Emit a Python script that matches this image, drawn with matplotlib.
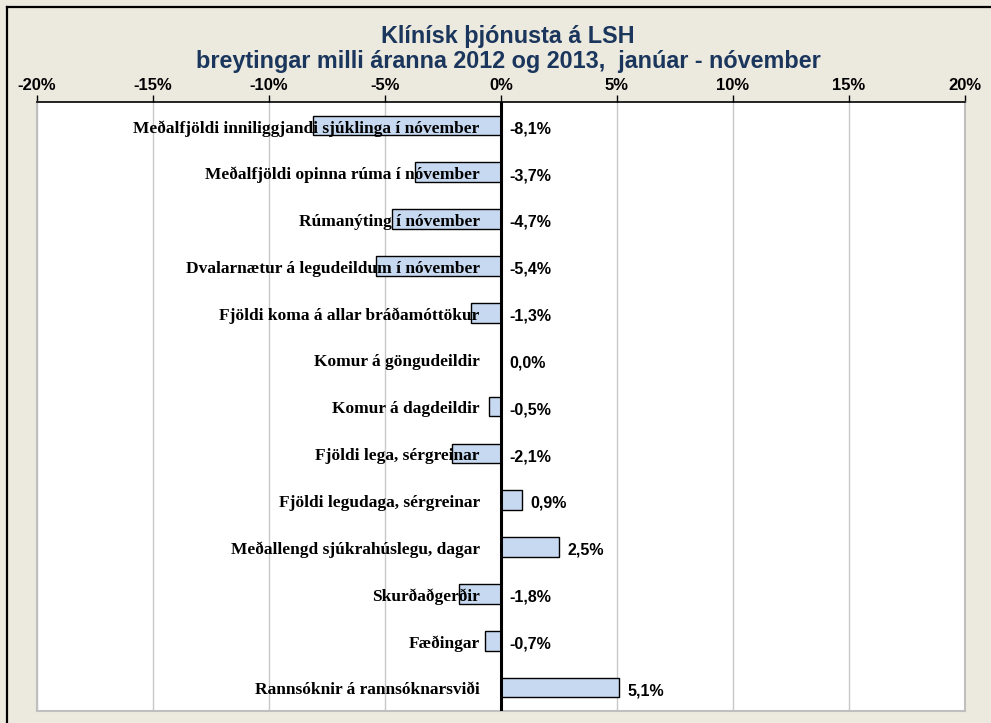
import matplotlib
matplotlib.use("Agg")
import matplotlib.pyplot as plt
from matplotlib.lines import Line2D
from matplotlib.ticker import FuncFormatter, MultipleLocator

# Gögn
categories = [
    "Meðalfjöldi inniliggjandi sjúklinga í nóvember",
    "Meðalfjöldi opinna rúma í nóvember",
    "Rúmanýting í nóvember",
    "Dvalarnætur á legudeildum í nóvember",
    "Fjöldi koma á allar bráðamóttökur",
    "Komur á göngudeildir",
    "Komur á dagdeildir",
    "Fjöldi lega, sérgreinar",
    "Fjöldi legudaga, sérgreinar",
    "Meðallengd sjúkrahúslegu, dagar",
    "Skurðaðgerðir",
    "Fæðingar",
    "Rannsóknir á rannsóknarsviði",
]
changes = [-8.1, -3.7, -4.7, -5.4, -1.3, 0.0, -0.5, -2.1, 0.9, 2.5, -1.8, -0.7, 5.1]

title_line1 = "Klínísk þjónusta á LSH"
title_line2 = "breytingar milli áranna 2012 og 2013,  janúar - nóvember"

bg = "#ECE9DF"
bar_color = "#C6D9F1"
title_color = "#1B365C"

fig = plt.figure(figsize=(9.91, 7.23), dpi=100, facecolor=bg)
# ytri rammi (aðeins efri og vinstri brún sjást)
fig.lines.append(Line2D([7 / 991, 1.0], [1 - 7 / 723, 1 - 7 / 723],
                        transform=fig.transFigure, color="black", linewidth=1.6))
fig.lines.append(Line2D([7 / 991, 7 / 991], [0.0, 1 - 7 / 723],
                        transform=fig.transFigure, color="black", linewidth=1.6))

ax = fig.add_axes([37 / 991, 1 - 711 / 723, (965 - 37) / 991, (711 - 102) / 723])
ax.set_facecolor("white")

y = list(range(len(categories)))
ax.barh(y, changes, height=0.42, color=bar_color, edgecolor="black",
        linewidth=1.0, zorder=3)

ax.set_xlim(-20, 20)
ax.set_ylim(len(categories) - 0.5, -0.5)
ax.xaxis.set_major_locator(MultipleLocator(5))
ax.xaxis.set_major_formatter(FuncFormatter(lambda v, p: f"{v:.0f}%"))
ax.xaxis.tick_top()
ax.tick_params(axis="x", direction="out", length=5, width=1, pad=1.5,
               labelsize=12, colors="black")
for lab in ax.get_xticklabels():
    lab.set_fontweight("bold")
    lab.set_fontfamily("Liberation Sans")
ax.set_yticks([])

ax.grid(axis="x", color="#C8C8C8", linewidth=1.0, zorder=0)
ax.axvline(0, color="black", linewidth=2.2, zorder=4)

for side in ["left", "right", "bottom"]:
    ax.spines[side].set_color("#BFBFBF")
    ax.spines[side].set_linewidth(1.5)
ax.spines["top"].set_color("black")
ax.spines["top"].set_linewidth(1.2)

for i, (cat, v) in enumerate(zip(categories, changes)):
    ax.text(-0.92, i + 0.06, cat, ha="right", va="center", fontsize=12.5,
            fontweight="bold", family="Liberation Serif", zorder=5)
    x = max(v, 0) + 0.35
    ax.text(x, i + 0.07, f"{v:.1f}%".replace(".", ","), ha="left", va="center",
            fontsize=11.5, fontweight="bold", family="Liberation Sans", zorder=5)

fig.text(508 / 991, 1 - 43 / 723, title_line1, ha="center", va="baseline",
         fontsize=16.8, fontweight="bold", family="Liberation Sans",
         color=title_color)
fig.text(508 / 991, 1 - 68 / 723, title_line2, ha="center", va="baseline",
         fontsize=16.8, fontweight="bold", family="Liberation Sans",
         color=title_color)

fig.savefig("out.png", dpi=100, facecolor=bg)
